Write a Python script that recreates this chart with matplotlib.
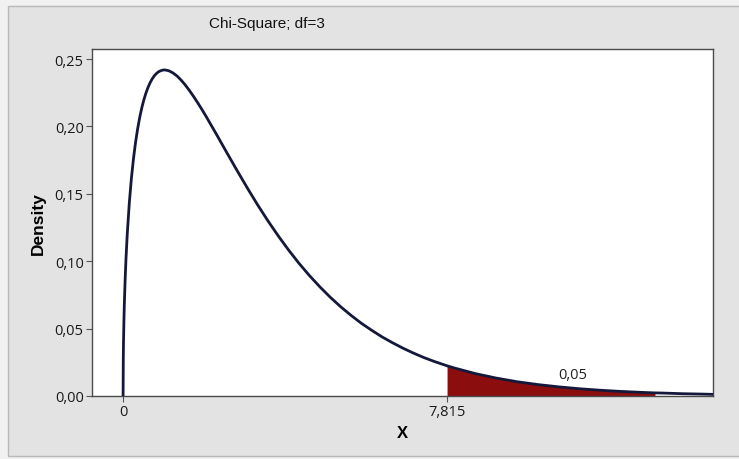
#!/usr/bin/env python3
"""Chi-square (df=3) density with upper 5% tail shaded, Minitab look."""
import matplotlib

matplotlib.use("Agg")
import matplotlib.pyplot as plt
import numpy as np
from matplotlib.patches import Rectangle

# ---- values ----
title = "Chi-Square; df=3"
x_vals = [0.0, 0.005, 0.01, 0.02, 0.03, 0.05, 0.07, 0.1, 0.15, 0.2, 0.25, 0.3, 0.35, 0.4,
          0.45, 0.5, 0.55, 0.6, 0.65, 0.7, 0.75, 0.8, 0.85, 0.9, 0.95, 1.0, 1.1, 1.2, 1.3,
          1.4, 1.5, 1.6, 1.7, 1.8, 1.9, 2.0, 2.25, 2.5, 2.75, 3.0, 3.25, 3.5, 3.75, 4.0,
          4.25, 4.5, 4.75, 5.0, 5.25, 5.5, 5.75, 6.0, 6.25, 6.5, 6.75, 7.0, 7.25, 7.5,
          7.815, 8.0, 8.5, 9.0, 9.5, 10.0, 10.5, 11.0, 11.5, 12.0, 12.5, 12.83, 13.0,
          13.5, 14.0, 14.23]
density = [0.0, 0.0281, 0.0397, 0.0559, 0.0681, 0.0870, 0.1019, 0.1200, 0.1433, 0.1614,
           0.1760, 0.1881, 0.1981, 0.2066, 0.2137, 0.2197, 0.2247, 0.2289, 0.2324, 0.2352,
           0.2375, 0.2392, 0.2405, 0.2413, 0.2418, 0.2420, 0.2414, 0.2398, 0.2375, 0.2344,
           0.2308, 0.2267, 0.2223, 0.2176, 0.2127, 0.2076, 0.1943, 0.1807, 0.1673, 0.1542,
           0.1416, 0.1297, 0.1185, 0.1080, 0.0982, 0.0892, 0.0809, 0.0732, 0.0662, 0.0598,
           0.0539, 0.0487, 0.0438, 0.0395, 0.0355, 0.0319, 0.0286, 0.0257, 0.0224, 0.0207,
           0.0166, 0.0133, 0.0106, 0.0085, 0.0068, 0.0054, 0.0043, 0.0034, 0.0027, 0.0023,
           0.0022, 0.0017, 0.0014, 0.0012]
crit_value = 7.815
shade_end = 12.83
tail_area_label = "0,05"
x_ticks = [0, crit_value]
x_tick_labels = ["0", "7,815"]
y_ticks = [0.0, 0.05, 0.10, 0.15, 0.20, 0.25]
y_tick_labels = ["0,00", "0,05", "0,10", "0,15", "0,20", "0,25"]

REG = ["Open Sans", "DejaVu Sans"]
BOLD = ["Liberation Sans", "DejaVu Sans"]

x = np.array(x_vals)
y = np.array(density)

fig = plt.figure(figsize=(7.39, 4.60), dpi=100, facecolor="#f1f1f1")
fig.add_artist(Rectangle((8 / 739, 3 / 460), 1.0, 450 / 460, transform=fig.transFigure,
                         facecolor="#e3e3e3", edgecolor="#b8b8b8", lw=1.0, zorder=-10))

ax = fig.add_axes([92 / 739, 63 / 460, 621 / 739, 347 / 460])
ax.set_facecolor("white")

# upper tail
mask = (x >= crit_value) & (x <= shade_end)
ax.fill_between(x[mask], 0, y[mask], color="#8c0d0d", lw=0, zorder=2)
ax.plot(x, y, color="#14183a", lw=2.0, zorder=3, solid_capstyle="butt", solid_joinstyle="round")
ax.text(10.84, 0.0163, tail_area_label, ha="center", va="center", fontsize=10.5,
        family=REG, color="#222222")

ax.set_xlim(-0.75, 14.23)
ax.set_ylim(0, 0.2575)
ax.set_xticks(x_ticks)
ax.set_xticklabels(x_tick_labels, family=REG, fontsize=10.5)
ax.set_yticks(y_ticks)
ax.set_yticklabels(y_tick_labels, family=REG, fontsize=10.5)
ax.tick_params(direction="out", length=4, width=0.8, color="#555555", pad=2, labelcolor="#1a1a1a")

for s in ax.spines.values():
    s.set_color("#4a4a4a")
    s.set_linewidth(1.0)

ax.set_xlabel("X", family=BOLD, fontsize=12, fontweight="bold")
ax.set_ylabel("Density", family=BOLD, fontsize=12.5, fontweight="bold")
ax.yaxis.set_label_coords(-0.075, 0.5)
ax.xaxis.set_label_coords(0.5, -0.085)

fig.text(267 / 739, 1 - 24 / 460, title, ha="center", va="center", family=BOLD,
         fontsize=11, color="#111111")

fig.savefig("out.png", dpi=100, facecolor=fig.get_facecolor())
